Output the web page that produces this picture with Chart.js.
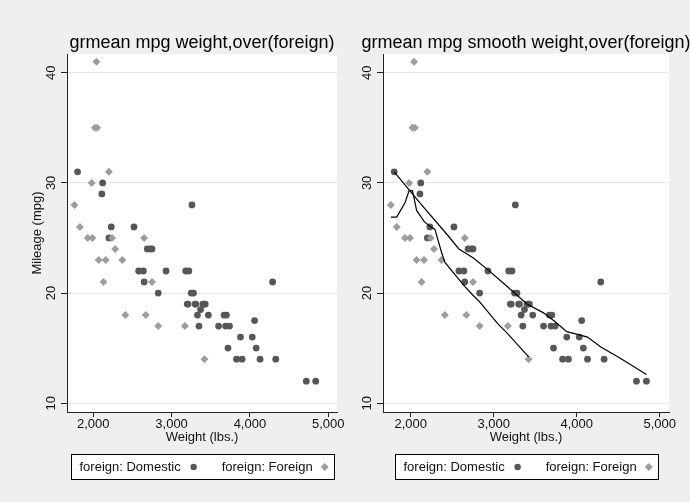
<!DOCTYPE html>
<html>
<head>
<meta charset="utf-8">
<script src="https://cdn.jsdelivr.net/npm/chart.js@4.4.1/dist/chart.umd.min.js"></script>
<style>
  html, body { margin: 0; padding: 0; background: #eef0ef; }
  #wrap { position: relative; width: 690px; height: 502px; overflow: hidden; }
  .panel { position: absolute; top: 0; width: 345px; height: 502px; }
</style>
</head>
<body>
<div id="wrap">
  <div class="panel" style="left:0"><canvas id="leftChart" width="345" height="502"></canvas></div>
  <div class="panel" style="left:345px"><canvas id="rightChart" width="345" height="502"></canvas></div>
</div>
<script>
const FONT = "'Liberation Sans', Arial, Helvetica, sans-serif";

// mean mpg at each weight, by group
const domesticWeight = [1800, 2110, 2120, 2200, 2230, 2520, 2580, 2640, 2650, 2690, 2730, 2750, 2830, 2930,
  3180, 3200, 3210, 3220, 3250, 3260, 3280, 3300, 3310, 3330, 3350, 3370, 3400, 3420, 3430, 3470,
  3600, 3670, 3690, 3700, 3720, 3740, 3830, 3880, 3900, 4030, 4060, 4080, 4130, 4290, 4330, 4720, 4840];
const domesticMpg = [31, 29, 30, 25, 26, 26, 22, 22, 21, 24, 24, 24, 20, 22,
  22, 19, 19, 22, 20, 28, 20, 19, 19, 18, 17, 18.5, 19, 19, 19, 18,
  17, 18, 17, 18, 15, 17, 14, 16, 14, 16, 17.5, 15, 14, 21, 14, 12, 12];
const foreignWeight = [1760, 1830, 1930, 1980, 1990, 2020, 2040, 2050, 2070, 2130, 2160, 2200, 2240, 2280,
  2370, 2410, 2650, 2670, 2750, 2830, 3170, 3420];
const foreignMpg = [28, 26, 25, 30, 25, 35, 41, 35, 23, 21, 23, 31, 25, 24,
  23, 18, 25, 18, 21, 17, 17, 14];

// smoothed means (right panel)
const smoothDomesticWeight = [1800, 2120, 2450, 2580, 2750, 2930, 3100, 3250, 3400, 3600, 3740, 3880, 4030, 4130, 4290, 4500, 4840];
const smoothDomesticMpg = [31.0, 28.1, 25.2, 24.0, 23.2, 22.1, 21.0, 20.0, 19.0, 18.2, 17.4, 16.5, 16.2, 16.0, 15.1, 14.2, 12.6];
const smoothForeignWeight = [1760, 1830, 1930, 1980, 2020, 2040, 2070, 2160, 2240, 2290, 2370, 2410, 2530, 2650, 2750, 2830, 3050, 3170, 3420];
const smoothForeignMpg = [26.9, 26.9, 28.2, 29.3, 29.3, 28.6, 27.5, 26.5, 26.0, 25.8, 23.7, 22.8, 21.7, 20.6, 19.8, 19.2, 17.2, 16.3, 14.2];

const xTicks = [2000, 3000, 4000, 5000];
const yTicks = [10, 20, 30, 40];
const xRange = [1665, 5112];
const yRange = [9.2, 41.7];
const seriesLabels = ["foreign: Domestic", "foreign: Foreign"];
const panelTitles = ["grmean mpg weight,over(foreign)", "grmean mpg smooth weight,over(foreign)"];
const xTitle = "Weight (lbs.)";
const yTitle = "Mileage (mpg)";

const domesticColor = "#575757";
const foreignColor = "#9d9d9d";

function toPoints(xs, ys) {
  return xs.map((x, i) => ({ x, y: ys[i] }));
}

const plotBackground = {
  id: "plotBackground",
  beforeDraw(chart) {
    const { ctx, chartArea } = chart;
    ctx.save();
    ctx.fillStyle = "#ffffff";
    ctx.fillRect(chartArea.left, chartArea.top, chartArea.right - chartArea.left, chartArea.bottom - chartArea.top);
    ctx.restore();
  }
};

const panelText = {
  id: "panelText",
  afterDraw(chart, args, opts) {
    const { ctx, chartArea } = chart;
    const cx = (chartArea.left + chartArea.right) / 2;
    ctx.save();
    ctx.fillStyle = "#000";
    ctx.font = `18px ${FONT}`;
    ctx.textAlign = "center";
    ctx.textBaseline = "alphabetic";
    ctx.fillText(opts.title, cx, 48);

    // legend box
    ctx.font = `13px ${FONT}`;
    const w0 = ctx.measureText(seriesLabels[0]).width;
    const w1 = ctx.measureText(seriesLabels[1]).width;
    const boxW = Math.round(8 + w0 + 13 + 28 + w1 + 12 + 10);
    const left = Math.round(cx - boxW / 2) + 0.5;
    const top = 454.5;
    const h = 25;
    const mid = top + h / 2;
    ctx.fillStyle = "#fff";
    ctx.fillRect(left, top, boxW, h);
    ctx.strokeStyle = "#000";
    ctx.lineWidth = 1;
    ctx.strokeRect(left, top, boxW, h);

    ctx.fillStyle = "#111";
    ctx.textAlign = "left";
    ctx.textBaseline = "middle";
    let x = left + 8;
    ctx.fillText(seriesLabels[0], x, mid + 0.5);
    x += w0 + 13;
    ctx.fillStyle = domesticColor;
    Chart.helpers.drawPoint(ctx, { pointStyle: "circle", radius: 3.2, borderWidth: 0, rotation: 0 }, x, mid);
    x += 28;
    ctx.fillStyle = "#111";
    ctx.fillText(seriesLabels[1], x, mid + 0.5);
    x += w1 + 12;
    ctx.fillStyle = foreignColor;
    Chart.helpers.drawPoint(ctx, { pointStyle: "rectRot", radius: 4, borderWidth: 0, rotation: 0 }, x, mid);
    ctx.restore();
  }
};

function makePanel(canvasId, title, withSmooth, showYTitle, yAxisWidth, rightPad) {
  const datasets = [];
  if (withSmooth) {
    datasets.push({
      label: "smooth domestic",
      data: toPoints(smoothDomesticWeight, smoothDomesticMpg),
      showLine: true,
      borderColor: "#000",
      borderWidth: 1.2,
      pointRadius: 0,
      order: 0
    });
    datasets.push({
      label: "smooth foreign",
      data: toPoints(smoothForeignWeight, smoothForeignMpg),
      showLine: true,
      borderColor: "#000",
      borderWidth: 1.2,
      pointRadius: 0,
      order: 0
    });
  }
  datasets.push({
    label: seriesLabels[1],
    data: toPoints(foreignWeight, foreignMpg),
    pointStyle: "rectRot",
    pointRadius: 4,
    pointBorderWidth: 0,
    backgroundColor: foreignColor,
    borderColor: foreignColor,
    order: 1
  });
  datasets.push({
    label: seriesLabels[0],
    data: toPoints(domesticWeight, domesticMpg),
    pointStyle: "circle",
    pointRadius: 3.4,
    pointBorderWidth: 0,
    backgroundColor: domesticColor,
    borderColor: domesticColor,
    order: 2
  });

  return new Chart(document.getElementById(canvasId), {
    type: "scatter",
    data: { datasets },
    plugins: [plotBackground, panelText],
    options: {
      responsive: false,
      animation: false,
      events: [],
      layout: { padding: { top: 54, right: rightPad, left: 0, bottom: 53 } },
      plugins: {
        legend: { display: false },
        tooltip: { enabled: false },
        panelText: { title }
      },
      scales: {
        x: {
          type: "linear",
          min: xRange[0],
          max: xRange[1],
          afterBuildTicks: (scale) => { scale.ticks = xTicks.map((value) => ({ value })); },
          afterFit: (scale) => { scale.height = 37; },
          ticks: {
            callback: (value) => value.toLocaleString("en-US"),
            font: { family: FONT, size: 13 },
            color: "#111",
            padding: 0,
            maxRotation: 0
          },
          grid: { drawOnChartArea: false, tickColor: "#222", tickLength: 5 },
          border: { color: "#222", width: 1 },
          title: { display: true, text: xTitle, font: { family: FONT, size: 13 }, color: "#111", padding: { top: 0, bottom: 4 } }
        },
        y: {
          type: "linear",
          min: yRange[0],
          max: yRange[1],
          afterBuildTicks: (scale) => { scale.ticks = yTicks.map((value) => ({ value })); },
          afterFit: (scale) => { scale.width = yAxisWidth; },
          ticks: {
            font: { family: FONT, size: 13 },
            color: "#111",
            padding: 2,
            minRotation: 90,
            maxRotation: 90,
            crossAlign: "center"
          },
          grid: { color: "#e7e7e7", lineWidth: 1, tickColor: "#222", tickLength: 6 },
          border: { color: "#222", width: 1 },
          title: { display: showYTitle, text: yTitle, font: { family: FONT, size: 13 }, color: "#111", padding: { top: 30, bottom: 0 } }
        }
      }
    }
  });
}

makePanel("leftChart", panelTitles[0], false, true, 67, 8);
makePanel("rightChart", panelTitles[1], true, false, 38, 21);
</script>
</body>
</html>
